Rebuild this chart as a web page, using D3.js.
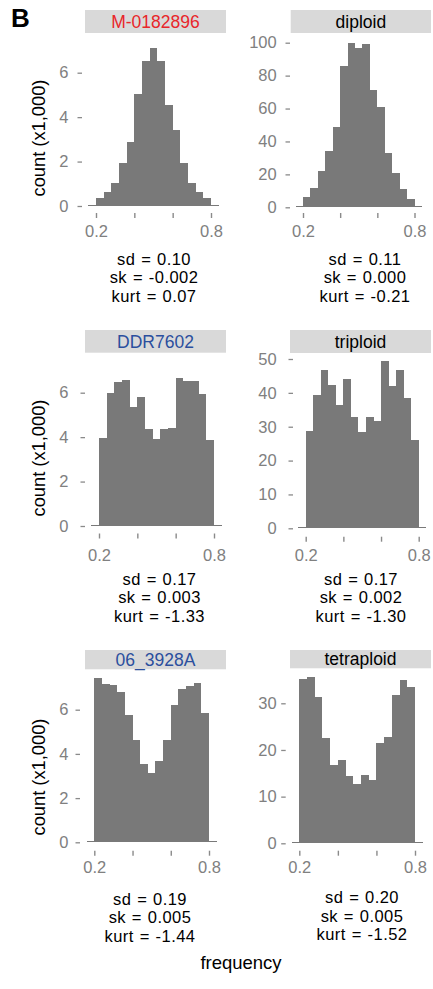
<!DOCTYPE html>
<html>
<head>
<meta charset="utf-8">
<script src="https://cdn.jsdelivr.net/npm/d3@7"></script>
<style>
  body { margin: 0; background: #fff; }
  svg text { font-family: "Liberation Sans", Arial, Helvetica, sans-serif; }
</style>
</head>
<body>
<svg id="canvas" width="433" height="989"></svg>
<script>
// histogram bins: width 0.04, from 0.16 up to 0.84 (first and last are empty)
const binStarts = [0.16, 0.20, 0.24, 0.28, 0.32, 0.36, 0.40, 0.44, 0.48, 0.52, 0.56, 0.60, 0.64, 0.68, 0.72, 0.76, 0.80]
const binWidth = 0.04

const panelNames = ['M-0182896', 'diploid', 'DDR7602', 'triploid', '06_3928A', 'tetraploid']
const stripColors = ['#e8262b', '#000000', '#2b4f9e', '#000000', '#2b4f9e', '#000000']

// counts, x1,000
const countsM0182896 = [0, 0.34, 0.63, 1.03, 1.92, 2.89, 5.04, 6.52, 7.09, 6.52, 4.54, 3.42, 1.92, 1.05, 0.64, 0.37, 0]
const countsDiploid = [0, 6, 12, 22, 34, 49, 86, 100, 97, 99, 71, 61, 33, 21, 11, 5, 0]
const countsDDR7602 = [0, 3.97, 6.0, 6.48, 6.57, 5.37, 5.82, 4.38, 3.93, 4.38, 4.42, 6.66, 6.54, 6.52, 5.94, 3.87, 0]
const countsTriploid = [0, 28.7, 39.4, 46.7, 42.3, 36.4, 44, 32.9, 28.3, 32.9, 31.8, 49.4, 42, 46.7, 38.5, 26.1, 0]
const counts063928A = [0, 7.44, 7.18, 7.12, 6.8, 5.76, 4.65, 3.54, 3.14, 3.68, 4.65, 6.21, 6.94, 7.07, 7.21, 5.85, 0]
const countsTetraploid = [0, 35.2, 35.6, 31.4, 22.5, 16.8, 17.9, 14.4, 12.7, 14.6, 13.6, 21.4, 22.8, 31.8, 35, 33.4, 0]

const yTicksSmall = [0, 2, 4, 6]
const yTicksDiploid = [0, 20, 40, 60, 80, 100]
const yTicksTriploid = [0, 10, 20, 30, 40, 50]
const yTicksTetraploid = [0, 10, 20, 30]

const xTickValues = [0.2, 0.4, 0.6, 0.8]
const xTickLabels = ['0.2', '', '', '0.8']

const statsSd = ['0.10', '0.11', '0.17', '0.17', '0.19', '0.20']
const statsSk = ['-0.002', '0.000', '0.003', '0.002', '0.005', '0.005']
const statsKurt = ['0.07', '-0.21', '-1.33', '-1.30', '-1.44', '-1.52']

const allCounts = [countsM0182896, countsDiploid, countsDDR7602, countsTriploid, counts063928A, countsTetraploid]
const allYTicks = [yTicksSmall, yTicksDiploid, yTicksSmall, yTicksTriploid, yTicksSmall, yTicksTetraploid]

// layout (pixels) per panel
const layout = [
  {sx0: 85, sx1: 226, sy0: 10, sy1: 33, x02: 96, x08: 211, y0: 206, yTop: 72.7, yTopVal: 6, dash: 82, lab: 68.3, xt: 213, xlb: 236.7, sc: 154, sb: 264.5, ty: 138},
  {sx0: 290.7, sx1: 431, sy0: 10, sy1: 33, x02: 303, x08: 414.5, y0: 207.3, yTop: 42.7, yTopVal: 100, dash: 290, lab: 276.7, xt: 213, xlb: 236.7, sc: 365, sb: 264.5},
  {sx0: 85, sx1: 226, sy0: 330, sy1: 352.7, x02: 99, x08: 214, y0: 526, yTop: 392.7, yTopVal: 6, dash: 85, lab: 68.3, xt: 533.5, xlb: 561, sc: 159.5, sb: 584.5, ty: 458},
  {sx0: 290, sx1: 431, sy0: 330, sy1: 353, x02: 305.7, x08: 418.7, y0: 528.3, yTop: 359, yTopVal: 50, dash: 293, lab: 276.7, xt: 536.7, xlb: 561, sc: 361, sb: 584.5},
  {sx0: 85, sx1: 226, sy0: 650, sy1: 669.3, x02: 94.3, x08: 209, y0: 842.3, yTop: 709.7, yTopVal: 6, dash: 80, lab: 68.3, xt: 850.7, xlb: 873, sc: 150, sb: 904.5, ty: 777},
  {sx0: 290, sx1: 431, sy0: 650, sy1: 668.3, x02: 299.3, x08: 415, y0: 843.3, yTop: 703.3, yTopVal: 30, dash: 285.7, lab: 276.7, xt: 850.7, xlb: 873, sc: 362, sb: 903}
]

const barColor = '#797979'
const tickColor = '#8a8a8a'
const labelColor = '#808080'

const svg = d3.select('#canvas')

svg.append('text')
  .attr('x', 11)
  .attr('y', 27)
  .attr('font-size', 26)
  .attr('font-weight', 'bold')
  .text('B')

panelNames.forEach((name, i) => {
  const L = layout[i]
  const counts = allCounts[i]

  const x = d3.scaleLinear().domain([0.2, 0.8]).range([L.x02, L.x08])
  const y = d3.scaleLinear().domain([0, L.yTopVal]).range([L.y0, L.yTop])

  const g = svg.append('g')

  // strip
  g.append('rect')
    .attr('x', L.sx0)
    .attr('y', L.sy0)
    .attr('width', L.sx1 - L.sx0)
    .attr('height', L.sy1 - L.sy0)
    .attr('fill', '#d9d9d9')
  g.append('text')
    .attr('x', (L.sx0 + L.sx1) / 2)
    .attr('y', (L.sy0 + L.sy1) / 2)
    .attr('dy', '0.36em')
    .attr('text-anchor', 'middle')
    .attr('font-size', 17.5)
    .attr('fill', stripColors[i])
    .text(name)

  // bars
  g.selectAll('rect.bar')
    .data(binStarts)
    .enter()
    .append('rect')
    .attr('class', 'bar')
    .attr('x', d => x(d))
    .attr('width', d => x(d + binWidth) - x(d))
    .attr('y', (d, j) => Math.min(y(counts[j]), y(0) - 1))
    .attr('height', (d, j) => Math.max(y(0) - y(counts[j]), 1))
    .attr('fill', barColor)
    .attr('shape-rendering', 'crispEdges')

  // y axis
  const yAxis = d3.axisLeft(y)
    .tickValues(allYTicks[i])
    .tickFormat(d3.format('d'))
    .tickSizeInner(4.5)
    .tickSizeOuter(0)
    .tickPadding(L.dash - 4.5 - L.lab)
  const ya = g.append('g')
    .attr('transform', `translate(${L.dash},0)`)
    .call(yAxis)
  ya.select('.domain').remove()
  ya.selectAll('line').attr('stroke', tickColor).attr('stroke-width', 1.3)
  ya.selectAll('text')
    .attr('fill', labelColor)
    .attr('font-size', 16.5)
    .attr('font-family', '"Liberation Sans", Arial, sans-serif')

  // x axis
  const xAxis = d3.axisBottom(x)
    .tickValues(xTickValues)
    .tickFormat((d, j) => xTickLabels[j])
    .tickSizeInner(5)
    .tickSizeOuter(0)
  const xa = g.append('g')
    .attr('transform', `translate(0,${L.xt})`)
    .call(xAxis)
  xa.select('.domain').remove()
  xa.selectAll('line').attr('stroke', tickColor).attr('stroke-width', 1.4)
  xa.selectAll('text')
    .attr('y', L.xlb - L.xt)
    .attr('dy', null)
    .attr('fill', labelColor)
    .attr('font-size', 16.5)
    .attr('font-family', '"Liberation Sans", Arial, sans-serif')

  // stats
  const lines = ['sd = ' + statsSd[i], 'sk = ' + statsSk[i], 'kurt = ' + statsKurt[i]]
  g.selectAll('text.stat')
    .data(lines)
    .enter()
    .append('text')
    .attr('class', 'stat')
    .attr('x', L.sc)
    .attr('y', (d, j) => L.sb + j * 18.5)
    .attr('text-anchor', 'middle')
    .attr('font-size', 16.5)
    .attr('letter-spacing', 0.45)
    .attr('word-spacing', 0.8)
    .text(d => d)

  // y title only on left column
  if (L.ty) {
    g.append('text')
      .attr('transform', `translate(38.5,${L.ty}) rotate(-90)`)
      .attr('text-anchor', 'middle')
      .attr('dy', '0.35em')
      .attr('font-size', 18.3)
      .text('count (x1,000)')
  }
})

svg.append('text')
  .attr('x', 241)
  .attr('y', 969)
  .attr('text-anchor', 'middle')
  .attr('font-size', 18.5)
  .text('frequency')
</script>
</body>
</html>
